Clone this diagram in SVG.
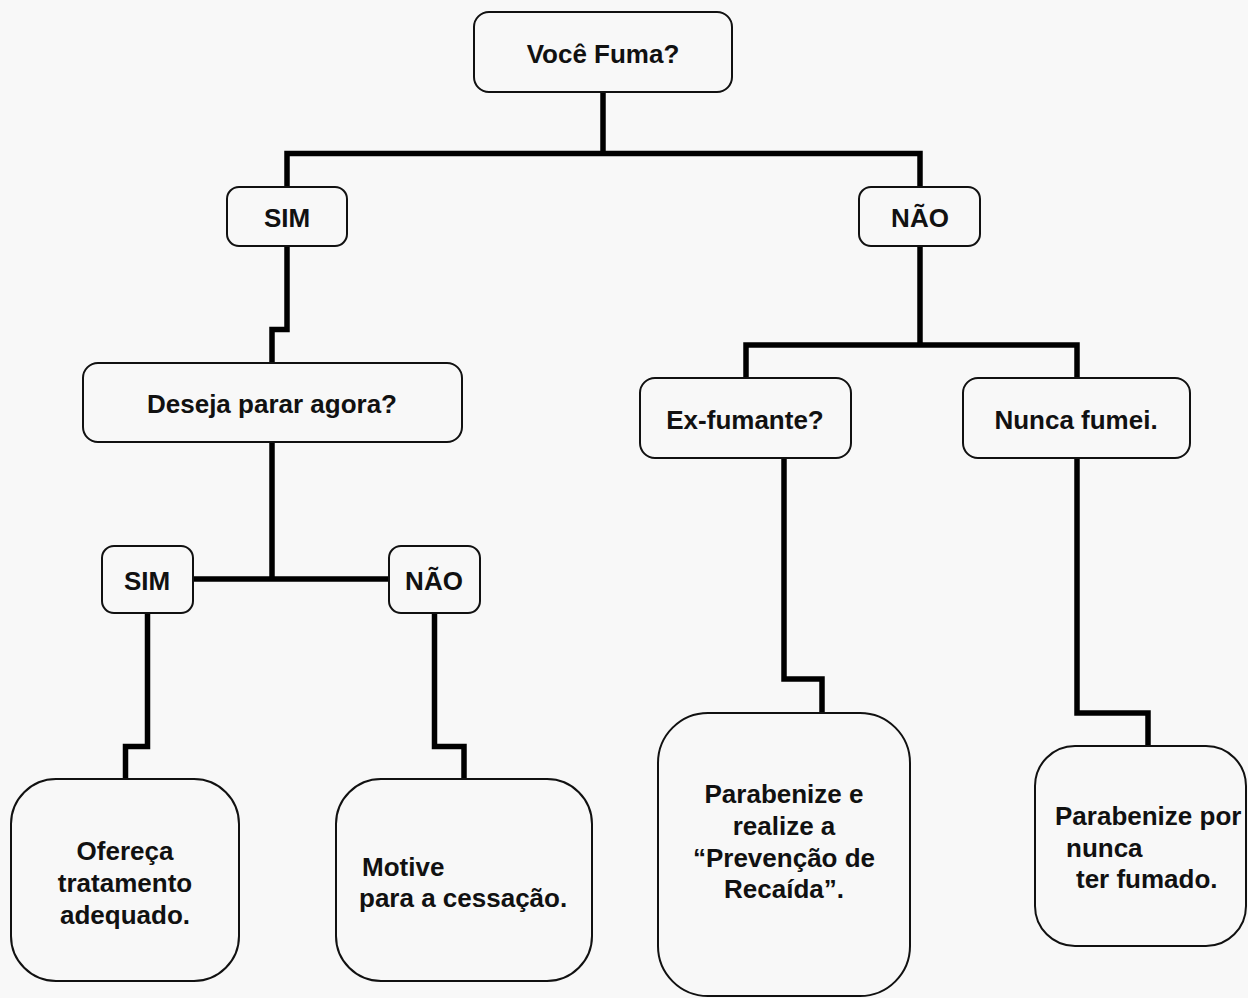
<svg xmlns="http://www.w3.org/2000/svg" width="1248" height="998" viewBox="0 0 1248 998">
<style>
.box{fill:#f8f8f8;stroke:#111;stroke-width:2}
.t{font-family:"Liberation Sans",Arial,sans-serif;font-weight:bold;font-size:26px;fill:#111}
.c{text-anchor:middle}
.conn{fill:none;stroke:#000;stroke-width:5.5;stroke-linejoin:miter;stroke-linecap:butt}
</style>
<rect width="1248" height="998" fill="#f8f8f8"/>
<g id="connectors" class="conn">
<path d="M603,92 V153.5"/>
<path d="M287,187 V153.5 H920 V187"/>
<path d="M287,246 V329.5 H272 V363"/>
<path d="M920,246 V345"/>
<path d="M746,378 V345 H1077 V378"/>
<path d="M272,442 V579"/>
<path d="M193,579 H389"/>
<path d="M147.5,613 V746.5 H125.5 V779"/>
<path d="M434.5,613 V746.5 H464 V779"/>
<path d="M784,458 V679 H822 V713"/>
<path d="M1077,458 V713 H1148 V746"/>
</g>
<g id="n-voce"><rect class="box" x="474" y="12" width="258" height="80" rx="15"/><text class="t c" x="603" y="63">Você Fuma?</text></g>
<g id="n-sim1"><rect class="box" x="227" y="187" width="120" height="59" rx="12"/><text class="t c" x="287" y="227">SIM</text></g>
<g id="n-nao1"><rect class="box" x="859" y="187" width="121" height="59" rx="12"/><text class="t c" x="920" y="227">NÃO</text></g>
<g id="n-deseja"><rect class="box" x="83" y="363" width="379" height="79" rx="15"/><text class="t c" x="272" y="413">Deseja parar agora?</text></g>
<g id="n-ex"><rect class="box" x="640" y="378" width="211" height="80" rx="15"/><text class="t c" x="745" y="429">Ex-fumante?</text></g>
<g id="n-nunca"><rect class="box" x="963" y="378" width="227" height="80" rx="15"/><text class="t c" x="1076" y="429">Nunca fumei.</text></g>
<g id="n-sim2"><rect class="box" x="102" y="546" width="91" height="67" rx="12"/><text class="t c" x="147" y="590">SIM</text></g>
<g id="n-nao2"><rect class="box" x="389" y="546" width="91" height="67" rx="12"/><text class="t c" x="434" y="590">NÃO</text></g>
<g id="n-ofereca"><rect class="box" x="11" y="779" width="228" height="202" rx="45"/>
<text class="t c" x="125" y="860">Ofereça</text><text class="t c" x="125" y="892">tratamento</text><text class="t c" x="125" y="924">adequado.</text></g>
<g id="n-motive"><rect class="box" x="336" y="779" width="256" height="202" rx="45"/>
<text class="t" x="362" y="876">Motive</text><text class="t" x="359" y="907">para a cessação.</text></g>
<g id="n-parabenize-e"><rect class="box" x="658" y="713" width="252" height="283" rx="50"/>
<text class="t c" x="784" y="803">Parabenize e</text><text class="t c" x="784" y="835">realize a</text><text class="t c" x="784" y="867">“Prevenção de</text><text class="t c" x="784" y="898">Recaída”.</text></g>
<g id="n-parabenize-por"><rect class="box" x="1035" y="746" width="211" height="200" rx="40"/>
<text class="t" x="1055" y="825">Parabenize por</text><text class="t" x="1066" y="857">nunca</text><text class="t" x="1076" y="888">ter fumado.</text></g>
</svg>
